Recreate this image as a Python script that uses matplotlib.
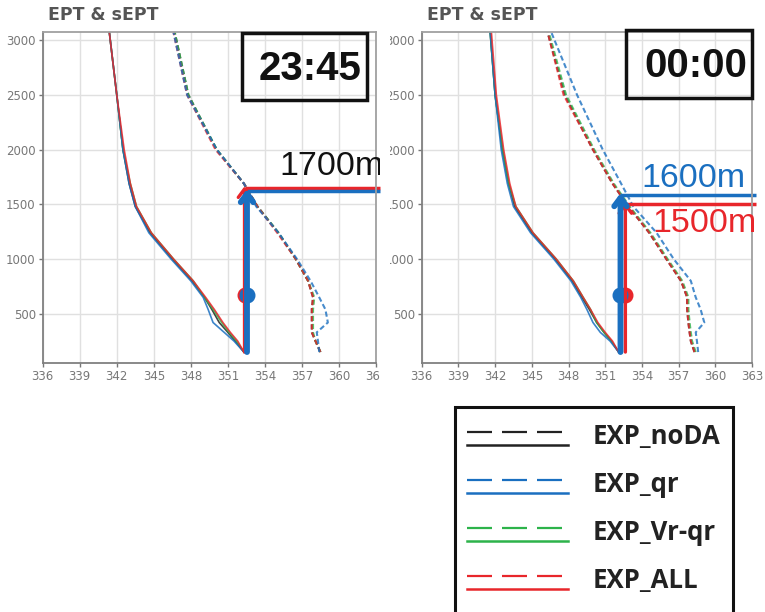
import matplotlib.pyplot as plt
from matplotlib.lines import Line2D
from matplotlib.patches import Rectangle
from matplotlib.transforms import Bbox, TransformedBbox

# heights (m) of the profile levels
z = [150, 250, 330, 420, 540, 650, 800, 1000, 1240, 1480, 1690, 2000, 2500, 3070]

# 23:45 - EPT (solid) and sEPT (dashed)
ept_2345_noda = [352.3, 351.6, 351.0, 350.3, 349.7, 349.1, 348.1, 346.5, 344.7, 343.5, 343.0, 342.5, 342.0, 341.4]
ept_2345_qr = [352.3, 351.5, 350.7, 349.8, 349.4, 349.0, 348.0, 346.4, 344.6, 343.5, 343.0, 342.5, 342.0, 341.4]
ept_2345_vrqr = [352.3, 351.7, 351.1, 350.5, 349.8, 349.1, 348.2, 346.6, 344.8, 343.6, 343.1, 342.5, 342.0, 341.4]
ept_2345_all = [352.3, 351.8, 351.2, 350.6, 349.9, 349.2, 348.2, 346.6, 344.8, 343.6, 343.1, 342.6, 342.0, 341.4]
sept_2345_noda = [358.5, 358.1, 357.8, 357.8, 357.8, 357.9, 357.5, 356.5, 355.1, 353.4, 352.3, 350.1, 347.8, 346.7]
sept_2345_qr = [358.4, 358.3, 358.2, 359.1, 358.9, 358.4, 357.7, 356.6, 355.1, 353.3, 352.3, 350.1, 347.7, 346.6]
sept_2345_vrqr = [358.5, 358.1, 357.9, 357.9, 357.9, 358.0, 357.5, 356.5, 355.1, 353.4, 352.3, 350.1, 347.8, 346.7]
sept_2345_all = [358.5, 358.1, 357.8, 357.8, 357.8, 357.9, 357.5, 356.5, 355.0, 353.4, 352.3, 350.0, 347.7, 346.6]

# 00:00
ept_0000_noda = [352.1, 351.5, 350.9, 350.3, 349.7, 349.1, 348.3, 346.9, 345.0, 343.6, 343.1, 342.6, 342.0, 341.6]
ept_0000_qr = [352.1, 351.4, 350.6, 350.0, 349.5, 349.0, 348.2, 346.8, 344.9, 343.5, 343.0, 342.5, 342.0, 341.6]
ept_0000_vrqr = [352.1, 351.5, 350.9, 350.3, 349.8, 349.2, 348.4, 347.0, 345.1, 343.7, 343.1, 342.6, 342.0, 341.6]
ept_0000_all = [352.1, 351.6, 351.0, 350.4, 349.8, 349.2, 348.4, 347.0, 345.1, 343.7, 343.2, 342.7, 342.1, 341.7]
sept_0000_noda = [358.3, 358.0, 357.9, 357.8, 357.7, 357.7, 357.2, 356.0, 354.6, 352.9, 351.6, 350.0, 347.7, 346.3]
sept_0000_qr = [358.6, 358.5, 358.4, 359.1, 358.8, 358.4, 358.0, 356.6, 355.2, 353.3, 352.3, 350.8, 348.7, 346.6]
sept_0000_vrqr = [358.4, 358.1, 358.0, 357.9, 357.8, 357.8, 357.3, 356.1, 354.7, 353.0, 351.7, 350.1, 347.8, 346.4]
sept_0000_all = [358.3, 358.0, 357.9, 357.8, 357.7, 357.7, 357.2, 356.0, 354.6, 352.9, 351.6, 350.0, 347.6, 346.3]

exp_names = ["EXP_noDA", "EXP_qr", "EXP_Vr-qr", "EXP_ALL"]
exp_colors = ["#222222", "#1a6fc0", "#2db34a", "#e8262b"]
times = ["23:45", "00:00"]
xticks = [336, 339, 342, 345, 348, 351, 354, 357, 360, 363]
yticks = [500, 1000, 1500, 2000, 2500, 3000]

ept = [[ept_2345_noda, ept_2345_qr, ept_2345_vrqr, ept_2345_all],
       [ept_0000_noda, ept_0000_qr, ept_0000_vrqr, ept_0000_all]]
sept = [[sept_2345_noda, sept_2345_qr, sept_2345_vrqr, sept_2345_all],
        [sept_0000_noda, sept_0000_qr, sept_0000_vrqr, sept_0000_all]]

# marked heights: (colour, x of arrow, top height, label, label x, label baseline)
RED, BLUE = "#e8262b", "#1a6fc0"
marks_2345 = [(RED, 352.35, 1650, None, 0, 0), (BLUE, 352.55, 1625, "1700m", 363.6, 1768)]
marks_0000 = [(RED, 352.65, 1505, "1500m", 363.4, 1248), (BLUE, 352.25, 1588, "1600m", 362.45, 1660)]
marks = [marks_2345, marks_0000]

W, H = 765, 612
fig = plt.figure(figsize=(W / 100, H / 100), dpi=100)

def fx(px):
    return px / W

def fy(py):
    return 1 - py / H

panels = [(42.7, 376.0, 0, 380), (421.7, 752.0, 390, W)]
solid_order = [0, 2, 1, 3]
dash_order = [0, 2, 3, 1]

for k, (x0, x1, cl, cr) in enumerate(panels):
    ax = fig.add_axes([fx(x0), fy(363), fx(x1 - x0), fy(32) - fy(363)])
    ax.set_xlim(336, 363)
    ax.set_ylim(50, 3075)
    ax.set_xticks(xticks)
    ax.set_yticks(yticks)
    ax.grid(True, color="#e0e0e0", lw=1)
    ax.tick_params(colors="#777777", labelsize=8.5, length=3, width=1, pad=2)
    for s in ax.spines.values():
        s.set_color("#a0a0a0")
        s.set_linewidth(1.3)
    ax.spines["left"].set_color("#808080")
    ax.spines["bottom"].set_color("#808080")

    for i in solid_order:
        ax.plot(ept[k][i], z, color=exp_colors[i], lw=1.2, alpha=0.85)
    for i in dash_order:
        ax.plot(sept[k][i], z, color=exp_colors[i], lw=1.5, alpha=0.8,
                linestyle=(0, (2.5, 1.4)))

    # panel crop
    crop = TransformedBbox(Bbox.from_extents(fx(cl), 0, fx(cr), 1), fig.transFigure)
    for lab in ax.get_xticklabels() + ax.get_yticklabels():
        lab.set_clip_box(crop)
        lab.set_clip_on(True)

    for col, xm, ztop, lab, lx, ly in marks[k]:
        lw = 2.4 if col == RED else 4.2
        ax.annotate("", xy=(xm, ztop + 15), xytext=(xm, 150),
                    arrowprops=dict(arrowstyle="->,head_length=0.6,head_width=0.45",
                                    color=col, lw=lw, shrinkA=0, shrinkB=0),
                    annotation_clip=False)
        ax.plot([xm, 363.3], [ztop, ztop], color=col, lw=2.5, clip_on=False,
                solid_capstyle="butt")
        ax.plot([xm], [670], "o", color=col, ms=10.5, clip_on=False)
        if lab is not None:
            t = ax.text(lx, ly, lab, color=("#111111" if k == 0 else col), fontsize=24.5,
                        family="Liberation Sans", ha="right", va="baseline")
            t.set_clip_box(crop)
            t.set_clip_on(True)

    fig.text(fx(x0 + 5), fy(15), "EPT & sEPT", color="#555555", fontsize=12.5,
             fontweight="bold", va="center")

# time boxes
for (bx0, bx1, by0, by1), label in zip([(242, 367, 33, 100), (626, 752, 30, 98)], times):
    fig.patches.append(Rectangle((fx(bx0), fy(by1)), fx(bx1 - bx0), fy(by0) - fy(by1),
                                 transform=fig.transFigure, fill=False, ec="#111111", lw=2.5))
    fig.text(fx(bx1 - 5), fy((by0 + by1) / 2 + 2), label, fontsize=29, fontweight="bold",
             family="Liberation Sans", ha="right", va="center", color="#111111")

# legend: dashed sEPT over solid EPT for each experiment
fig.patches.append(Rectangle((fx(455), fy(620)), fx(733 - 455), fy(407) - fy(620),
                             transform=fig.transFigure, fill=False, ec="#111111", lw=2.2))
for i, (name, col) in enumerate(zip(exp_names, exp_colors)):
    yd = 432 + 48 * i
    fig.lines.append(Line2D([fx(467), fx(563)], [fy(yd), fy(yd)], transform=fig.transFigure,
                            color=col, lw=1.6, linestyle=(0, (11.25, 4.5))))
    fig.lines.append(Line2D([fx(467), fx(568)], [fy(yd + 12.5), fy(yd + 12.5)],
                            transform=fig.transFigure, color=col, lw=1.8))
    fig.text(fx(593), fy(yd + 5), name, fontsize=18.5, fontweight="bold",
             family="Open Sans", va="center", color="#222222")

fig.savefig("out.png", dpi=100)
